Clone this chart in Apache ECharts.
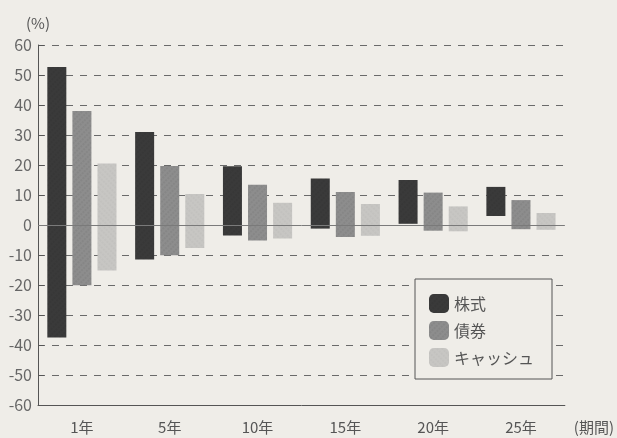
<!DOCTYPE html>
<html>
<head>
<meta charset="utf-8">
<script src="https://cdn.jsdelivr.net/npm/echarts@6/dist/echarts.min.js"></script>
<style>
  html, body { margin: 0; padding: 0; background: #efede8; }
  #chart { width: 617px; height: 438px; }
</style>
</head>
<body>
<div id="chart"></div>
<script>
// Categories (holding period)
const categories = ['1年', '5年', '10年', '15年', '20年', '25年'];
const seriesNames = ['株式', '債券', 'キャッシュ'];
// Range of annual returns (%) : min and max per holding period
const stockMin = [-37.5, -11.5, -3.5, -1.2, 0.4, 3.0];
const stockMax = [52.7, 31.0, 19.6, 15.5, 15.0, 12.7];
const bondMin  = [-20.1, -10.1, -5.2, -4.0, -1.9, -1.4];
const bondMax  = [38.0, 19.7, 13.4, 11.0, 10.8, 8.3];
const cashMin  = [-15.2, -7.7, -4.5, -3.6, -2.1, -1.6];
const cashMax  = [20.5, 10.3, 7.4, 7.0, 6.2, 4.0];
const yTicks = [-60, -50, -40, -30, -20, -10, 0, 10, 20, 30, 40, 50, 60];

const mins = [stockMin, bondMin, cashMin];
const maxs = [stockMax, bondMax, cashMax];
const colors = ['#3a3a3a', '#8d8d8d', '#c7c6c3'];
const decals = [
  { symbol: 'rect', symbolSize: 0.6, dashArrayX: [[2, 2]], dashArrayY: [2, 1], rotation: Math.PI / 4, color: 'rgba(0,0,0,0.18)' },
  { symbol: 'rect', symbolSize: 0.6, dashArrayX: [[2, 2]], dashArrayY: [2, 1], rotation: Math.PI / 4, color: 'rgba(40,40,40,0.22)' },
  { symbol: 'rect', symbolSize: 0.6, dashArrayX: [[2, 2]], dashArrayY: [2, 1], rotation: -Math.PI / 4, color: 'rgba(120,120,120,0.18)' }
];

const FONT = '"Noto Sans CJK JP", "Noto Sans", sans-serif';
const series = [];
seriesNames.forEach((name, i) => {
  // transparent base from 0 to the minimum
  series.push({
    type: 'bar',
    stack: 's' + i,
    stackStrategy: 'all',
    barWidth: 19,
    barGap: '32%',
    silent: true,
    itemStyle: { color: 'rgba(0,0,0,0)' },
    data: mins[i]
  });
  // visible bar spanning min .. max
  series.push({
    type: 'bar',
    name: name,
    stack: 's' + i,
    stackStrategy: 'all',
    barWidth: 19,
    barGap: '32%',
    itemStyle: { color: colors[i], decal: decals[i] },
    data: maxs[i].map((v, k) => +(v - mins[i][k]).toFixed(2))
  });
});
// solid zero line
series.push({
  type: 'line',
  data: [],
  silent: true,
  markLine: {
    symbol: 'none',
    silent: true,
    label: { show: false },
    lineStyle: { type: 'solid', color: '#7a7a7a', width: 1 },
    data: [{ yAxis: 0 }],
    animation: false
  }
});

const chart = echarts.init(document.getElementById('chart'));
chart.setOption({
  animation: false,
  backgroundColor: '#efede8',
  textStyle: { fontFamily: FONT },
  grid: { left: 38, right: 51, top: 45, bottom: 33 },
  legend: {
    data: seriesNames,
    orient: 'vertical',
    left: 415,
    top: 279,
    padding: [15, 18, 12, 14],
    itemWidth: 20,
    itemHeight: 19,
    itemGap: 8,
    backgroundColor: '#efede8',
    borderColor: '#555',
    borderWidth: 1,
    borderRadius: 0,
    textStyle: { fontSize: 16, color: '#555', fontFamily: FONT }
  },
  xAxis: {
    type: 'category',
    data: categories,
    name: '(期間)',
    nameLocation: 'end',
    nameGap: 9,
    nameTextStyle: { fontSize: 15, color: '#555', verticalAlign: 'top', padding: [15, 0, 0, 0], fontFamily: FONT },
    axisLine: { onZero: false, lineStyle: { color: '#555', width: 1 } },
    axisTick: { show: false },
    axisLabel: { fontSize: 15, color: '#555', margin: 15, fontFamily: FONT },
    splitLine: { show: false }
  },
  yAxis: {
    type: 'value',
    min: -60,
    max: 60,
    interval: 10,
    name: '(%)',
    nameLocation: 'end',
    nameGap: 14,
    nameTextStyle: { fontSize: 15, color: '#555', align: 'center', fontFamily: FONT },
    axisLine: { show: true, lineStyle: { color: '#555', width: 1 } },
    axisTick: { show: true, inside: true, length: 6, lineStyle: { color: '#555' } },
    axisLabel: { fontSize: 16, color: '#666', margin: 6, fontFamily: FONT,
      formatter: v => (yTicks.indexOf(v) >= 0 ? String(v) : '') },
    splitLine: { show: true, lineStyle: { type: [7, 7], color: '#6a6a6a', width: 1 } }
  },
  series: series
});
</script>
</body>
</html>
